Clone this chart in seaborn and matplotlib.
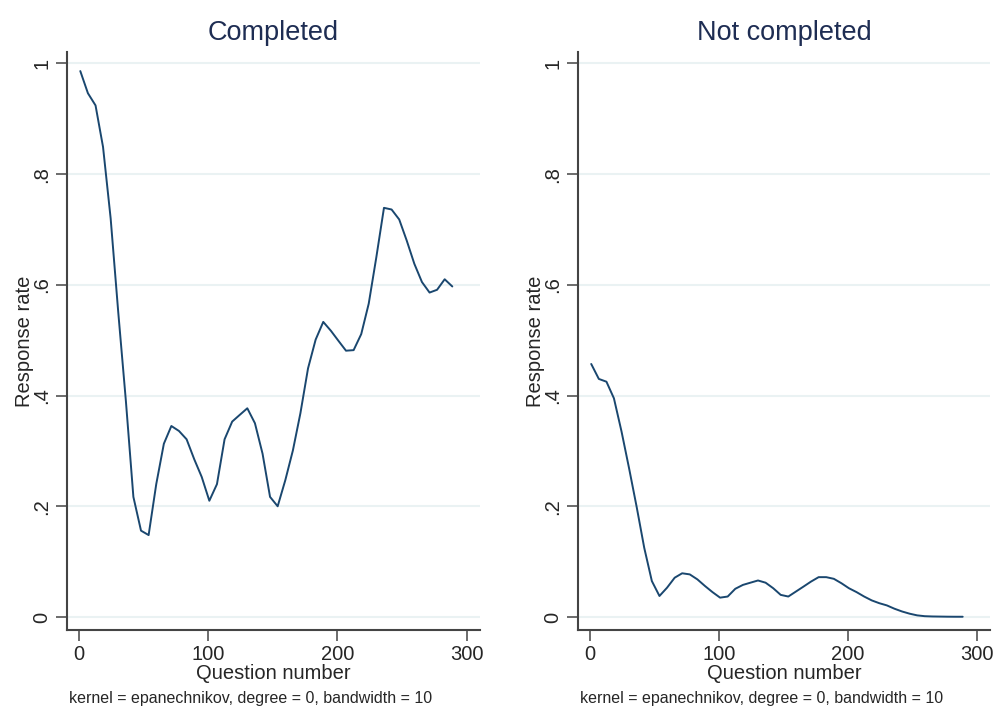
import pandas as pd
import seaborn as sns
import matplotlib.pyplot as plt

sns.set_style("white")
plt.rcParams['font.family'] = ['Liberation Sans', 'DejaVu Sans']

# ----------------------------
# Data: lpoly grid points (question number) and smoothed response rates
# ----------------------------
question = [1, 6.9, 12.8, 18.6, 24.5, 30.4, 36.3, 42.1, 48.0, 53.9,
            59.8, 65.7, 71.5, 77.4, 83.3, 89.2, 95.0, 100.9, 106.8, 112.7,
            118.6, 124.4, 130.3, 136.2, 142.1, 147.9, 153.8, 159.7, 165.6, 171.4,
            177.3, 183.2, 189.1, 195.0, 200.8, 206.7, 212.6, 218.5, 224.3, 230.2,
            236.1, 242.0, 247.9, 253.7, 259.6, 265.5, 271.4, 277.2, 283.1, 289.0]

completed = [0.986, 0.946, 0.924, 0.849, 0.720, 0.550, 0.390, 0.217, 0.156, 0.148,
             0.240, 0.313, 0.345, 0.336, 0.321, 0.285, 0.253, 0.210, 0.240, 0.321,
             0.353, 0.365, 0.377, 0.350, 0.295, 0.217, 0.200, 0.247, 0.301, 0.368,
             0.449, 0.501, 0.533, 0.517, 0.499, 0.481, 0.482, 0.511, 0.566, 0.650,
             0.739, 0.736, 0.718, 0.680, 0.638, 0.605, 0.586, 0.591, 0.610, 0.597]

not_completed = [0.457, 0.430, 0.425, 0.395, 0.335, 0.268, 0.198, 0.125, 0.065, 0.038,
                 0.053, 0.071, 0.079, 0.077, 0.068, 0.056, 0.045, 0.035, 0.037, 0.051,
                 0.058, 0.062, 0.066, 0.062, 0.052, 0.040, 0.037, 0.046, 0.055, 0.064,
                 0.072, 0.072, 0.069, 0.061, 0.052, 0.045, 0.037, 0.030, 0.025, 0.021,
                 0.015, 0.010, 0.006, 0.003, 0.0015, 0.001, 0.0008, 0.0006, 0.0005, 0.0005]

panels = ["Completed", "Not completed"]
y_ticks = [0, 0.2, 0.4, 0.6, 0.8, 1]
y_tick_labels = ["0", ".2", ".4", ".6", ".8", "1"]
x_ticks = [0, 100, 200, 300]
note = "kernel = epanechnikov, degree = 0, bandwidth = 10"

df = pd.DataFrame({
    "Question number": question * 2,
    "Response rate": completed + not_completed,
    "panel": [panels[0]] * len(question) + [panels[1]] * len(question),
})

fig = plt.figure(figsize=(9.96, 7.06), dpi=100)
ax_left = fig.add_axes([0.067, 0.1076, 0.415, 0.8187])
ax_right = fig.add_axes([0.580, 0.1076, 0.4144, 0.8187])

line_color = "#1a476f"
grid_color = "#eaf2f3"

for ax, name in zip([ax_left, ax_right], panels):
    sub = df[df["panel"] == name]
    sns.lineplot(data=sub, x="Question number", y="Response rate", ax=ax,
                 color=line_color, linewidth=1.4)
    ax.set_xlim(-9.5, 310.5)
    ax.set_ylim(-0.0235, 1.0204)
    ax.set_yticks(y_ticks)
    ax.set_yticklabels(y_tick_labels, rotation=90, va="center")
    ax.set_xticks(x_ticks)
    for y in y_ticks:
        ax.axhline(y, color=grid_color, linewidth=1.5, zorder=0)
    ax.set_title(name, fontsize=19.5, color="#1e2d53", pad=9)
    ax.set_xlabel("Question number", fontsize=14.5, labelpad=0)
    ax.set_ylabel("Response rate", fontsize=14.5, labelpad=-1)
    ax.tick_params(axis="both", labelsize=14.5, length=8, width=1.1,
                   color="#444444", direction="out", left=True, bottom=True, pad=3)
    for side in ["top", "right"]:
        ax.spines[side].set_visible(False)
    for side in ["left", "bottom"]:
        ax.spines[side].set_color("#444444")
        ax.spines[side].set_linewidth(1.5)
    ax.text(0.005, -0.105, note, transform=ax.transAxes, fontsize=11.5,
            ha="left", va="top")

plt.savefig("out.png", dpi=100)
plt.close()
print("Chart saved: out.png")
